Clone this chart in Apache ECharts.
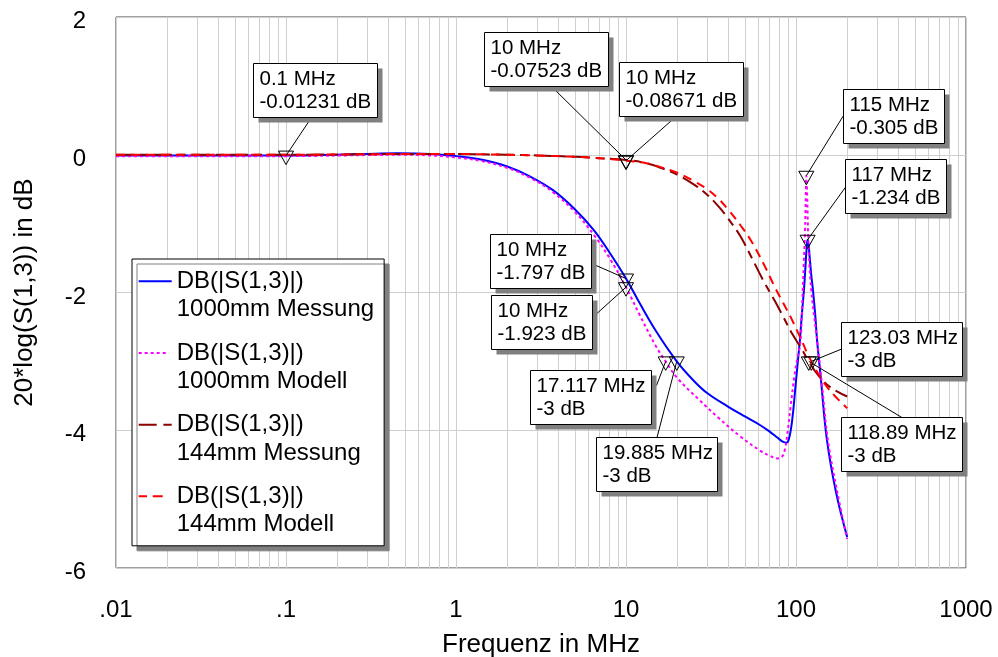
<!DOCTYPE html>
<html><head><meta charset="utf-8">
<script src="https://cdn.jsdelivr.net/npm/echarts@6/dist/echarts.min.js"></script>
<style>html,body{margin:0;padding:0;background:#fff}#c{width:998px;height:657px}</style>
</head><body><div id="c"></div>
<script>
// ---------------- data ----------------
const xTickLabels = ['.01', '.1', '1', '10', '100', '1000'];
const yTicks = [2, 0, -2, -4, -6];
const legendPrefix = 'DB(|S(1,3)|)';
const seriesNames = ['1000mm Messung', '1000mm Modell', '144mm Messung', '144mm Modell'];

const blueFreq = [0.01,0.02,0.05,0.1,0.2,0.3,0.45,0.7,1.0,1.4,2.0,2.7,3.7,5.0,6.5,8.0,10,12,15,19.885,25,30,40,50,61,70,78,84,88,91,95,99,103,105.5,108,111.4,113.5,115.5,117,118.5,120.5,123,126,130,133,140,152,172,200];
const blueDb   = [-0.01,-0.01,-0.012,-0.01231,0.0,0.012,0.02,0.012,-0.02,-0.07,-0.17,-0.31,-0.51,-0.79,-1.1,-1.42,-1.797,-2.15,-2.56,-3.0,-3.28,-3.46,-3.66,-3.8,-3.92,-4.02,-4.11,-4.17,-4.18,-4.12,-3.85,-3.4,-2.95,-2.69,-2.35,-1.96,-1.65,-1.35,-1.234,-1.3,-1.5,-1.75,-1.98,-2.35,-2.69,-3.25,-4.14,-4.9,-5.55];

const magFreq = [0.01,0.05,0.1,0.3,0.5,0.7,1.0,1.4,2.0,2.7,3.7,5.0,6.5,8.0,10,12,15,17.117,20,27,35,47,61,70,78,83,86,89,93,98,102,105,107,109,111,113,114.2,115,116.3,118,120,123,128,134,143,154,175,200];
const magDb   = [-0.02,-0.02,-0.02,-0.005,0.0,-0.01,-0.04,-0.09,-0.19,-0.33,-0.54,-0.83,-1.17,-1.5,-1.923,-2.32,-2.78,-3.0,-3.24,-3.56,-3.82,-4.09,-4.29,-4.37,-4.41,-4.38,-4.28,-4.05,-3.65,-3.2,-2.95,-2.8,-2.6,-2.1,-1.6,-1.1,-0.6,-0.305,-0.6,-1.2,-1.6,-1.97,-2.35,-2.75,-3.4,-4.14,-4.9,-5.58];

const m144Freq = [0.01,0.1,0.5,1,2,3,5,7,10,13,16,20,25,30,35,40,47,55,65,75,84,95,108,118.89,135,160,200];
const m144Db   = [0.0,0.0,0.01,0.01,0.0,-0.01,-0.03,-0.05,-0.07523,-0.12,-0.19,-0.29,-0.43,-0.58,-0.75,-0.93,-1.18,-1.5,-1.85,-2.12,-2.35,-2.6,-2.82,-3.0,-3.2,-3.38,-3.51];

const mod144Freq = [0.01,0.1,0.5,1,2,3,5,7,10,13,16,20,25,30,35,40,47,54,65,75,84,94,108,123.03,150,175,200];
const mod144Db   = [0.0,0.0,0.01,0.01,0.0,-0.01,-0.03,-0.05,-0.08671,-0.12,-0.18,-0.26,-0.38,-0.5,-0.64,-0.8,-1.02,-1.235,-1.6,-1.92,-2.15,-2.38,-2.7,-3.0,-3.35,-3.54,-3.68];

// marker annotations
const annFreq = [0.1, 10, 10, 115, 117, 10, 10, 17.117, 19.885, 123.03, 118.89];
const annDb   = [-0.01231, -0.07523, -0.08671, -0.305, -1.234, -1.797, -1.923, -3, -3, -3, -3];
const annText = ['0.1 MHz\n-0.01231 dB','10 MHz\n-0.07523 dB','10 MHz\n-0.08671 dB','115 MHz\n-0.305 dB','117 MHz\n-1.234 dB','10 MHz\n-1.797 dB','10 MHz\n-1.923 dB','17.117 MHz\n-3 dB','19.885 MHz\n-3 dB','123.03 MHz\n-3 dB','118.89 MHz\n-3 dB'];
// minor grid frequencies (2..9 per decade)
const minorGridFreq = [];
[0.01, 0.1, 1, 10, 100].forEach(d => { for (let k = 2; k <= 9; k++) minorGridFreq.push(+(k * d).toPrecision(3)); });

// ---------------- layout / style ----------------
const FONT = '"Liberation Sans", Arial, Helvetica, sans-serif';
// box layout relative to marker pixel: [dx, dy, w, h, anchorX, anchorY]
const annBox = [
  [-33, -92.3, 124, 54, 58, 54],
  [-141.7, -128.3, 124, 54, 67, 54],
  [-7.1, -98.5, 124, 54, 56.6, 54],
  [36.4, -86.8, 101, 54, 0, 26],
  [37.4, -80.8, 101, 54, 0, 27.7],
  [-135.8, -44.5, 101, 54, 101, 29],
  [-134.7, 7.8, 101, 54, 101, 22],
  [-135.3, 8.9, 121, 54, 126, 15],
  [-80.9, 75.9, 121, 54, 60.5, 0],
  [29.3, -39.7, 121, 54, 0, 26.6],
  [31.8, 55.3, 121, 54, 60.4, 0]
];
const colors = ['#0000ff', '#ff00ff', '#8b0000', '#ff0000'];
const dashes = ['solid', [3, 3], [18, 6, 8, 6], [9, 6]];
const legendIcons = [
  'path://M0 0h0.01v0.01zM33 57h0.01v0.01zM0 13.25h33v2h-33z',
  'path://M0 0h0.01v0.01zM33 57h0.01v0.01zM0 13.25h3v2h-3zM6 13.25h3v2h-3zM12 13.25h3v2h-3zM18 13.25h3v2h-3zM24 13.25h3v2h-3z',
  'path://M0 0h0.01v0.01zM33 57h0.01v0.01zM0 13.25h18v2h-18zM24.7 13.25h8.3v2h-8.3z',
  'path://M0 0h0.01v0.01zM33 57h0.01v0.01zM0 13.25h8.3v2h-8.3zM14 13.25h10v2h-10z'
];

const zip = (a, b) => a.map((v, i) => [v, b[i]]);
const curveData = [zip(blueFreq, blueDb), zip(magFreq, magDb), zip(m144Freq, m144Db), zip(mod144Freq, mod144Db)];

const chart = echarts.init(document.getElementById('c'), null, {renderer: 'canvas'});

const curveSeries = seriesNames.map((n, i) => ({
  name: n,
  type: 'line',
  data: curveData[i],
  color: colors[i],
  symbol: 'none',
  smooth: 0.4,
  z: 3 + i,
  clip: true,
  lineStyle: {color: colors[i], width: 2, type: dashes[i], cap: 'butt'}
}));

const option = {
  animation: false,
  backgroundColor: '#fff',
  grid: {left: 116, right: 32, top: 17, bottom: 89, containLabel: false, outerBoundsMode: 'none',
    show: true, borderColor: '#404040', borderWidth: 1, backgroundColor: 'transparent'},
  xAxis: {
    type: 'log', logBase: 10, min: 0.01, max: 1000,
    name: 'Frequenz in MHz', nameLocation: 'middle', nameGap: 64,
    nameTextStyle: {fontFamily: FONT, fontSize: 26, color: '#000'},
    axisLine: {show: false}, axisTick: {show: false},
    axisLabel: {fontFamily: FONT, fontSize: 24, color: '#000', margin: 30,
      formatter: v => xTickLabels[Math.round(Math.log10(v)) + 2]},
    splitLine: {show: true, lineStyle: {color: '#cfcfcf', width: 1}},
    minorTick: {show: false}
  },
  yAxis: {
    type: 'value', min: -6, max: 2, interval: 2,
    name: '20*log(S(1,3)) in dB', nameLocation: 'middle', nameGap: 78, nameRotate: 90,
    nameTextStyle: {fontFamily: FONT, fontSize: 26, color: '#000'},
    axisLine: {show: false}, axisTick: {show: false},
    axisLabel: {fontFamily: FONT, fontSize: 24, color: '#000', margin: 30,
      verticalAlign: 'top', lineHeight: 9,
      formatter: v => (yTicks.indexOf(v) >= 0 ? String(v) : '')},
    splitLine: {show: true, lineStyle: {color: '#cfcfcf', width: 1}}
  },
  legend: {
    data: seriesNames.map((n, i) => ({name: n, icon: legendIcons[i]})),
    orient: 'vertical', left: 132, top: 259,
    itemWidth: 33, itemHeight: 57, itemGap: 14.7,
    padding: [8, 10, 6.7, 6.7],
    backgroundColor: '#fff', borderColor: '#000', borderWidth: 1,
    shadowColor: '#808080', shadowBlur: 0, shadowOffsetX: 5, shadowOffsetY: 5,
    selectedMode: false,
    itemStyle: {borderWidth: 0},
    formatter: n => legendPrefix + '\n' + n,
    textStyle: {fontFamily: FONT, fontSize: 24, lineHeight: 28.5, color: '#000'}
  },
  series: [
    {
      name: 'minorGrid', type: 'line', data: [], z: 1, silent: true,
      markLine: {
        silent: true, symbol: ['none', 'none'], animation: false, z: 1,
        label: {show: false}, emphasis: {disabled: true},
        lineStyle: {color: '#cfcfcf', width: 1, type: 'solid'},
        data: minorGridFreq.map(f => ({xAxis: f}))
      }
    },
    ...curveSeries,
    {
      name: 'markers', type: 'custom', z: 20, clip: false, silent: true,
      data: zip(annFreq, annDb),
      encode: {x: 0, y: 1},
      renderItem: (params, api) => {
        const i = params.dataIndex;
        const p = api.coord([api.value(0), api.value(1)]);
        const L = annBox[i];
        const bx = Math.round(p[0] + L[0]) + 0.5, by = Math.round(p[1] + L[1]) + 0.5;
        return {
          type: 'group',
          children: [
            {type: 'line', shape: {x1: bx + L[4], y1: by + L[5], x2: p[0], y2: p[1]}, style: {stroke: '#000', lineWidth: 1}},
            {type: 'rect', shape: {x: bx + 5, y: by + 5, width: L[2], height: L[3]}, style: {fill: '#808080'}},
            {type: 'rect', shape: {x: bx, y: by, width: L[2], height: L[3]}, style: {fill: '#fff', stroke: '#000', lineWidth: 1}},
            {type: 'text', x: bx + 6, y: by + 4.5, style: {text: annText[i], fontFamily: FONT, fontSize: 20.5, lineHeight: 22.7, fill: '#000', verticalAlign: 'top', align: 'left'}},
            {type: 'polygon', shape: {points: [[p[0] - 7.5, p[1] - 4.5], [p[0] + 7.5, p[1] - 4.5], [p[0], p[1] + 9]]}, style: {fill: 'none', stroke: '#000', lineWidth: 1}}
          ]
        };
      }
    }
  ]
};
chart.setOption(option);
</script>
</body></html>
